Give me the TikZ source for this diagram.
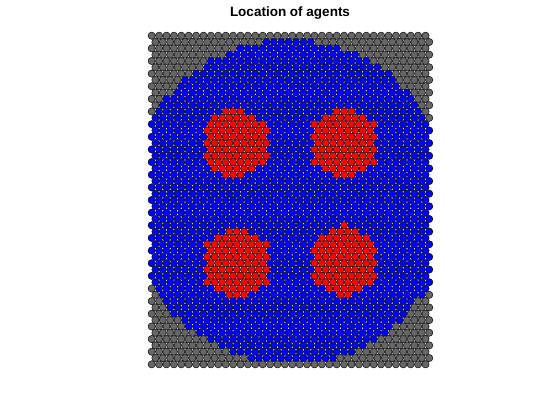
\documentclass[tikz,border=0pt]{standalone}
\usepackage{fontspec}
\setmainfont{Liberation Sans}
\definecolor{agentgray}{RGB}{102,102,102}
\tikzset{agent/.style={draw=black,line width=0.45pt}}

\begin{document}
\begin{tikzpicture}[x=1pt,y=-1pt]
  \useasboundingbox (0,0) rectangle (560,420);
  \node (title) at (290,13) {\fontsize{13.5}{15}\selectfont\bfseries Location of agents};
  % hex lattice of agents, coloured by region
  \foreach \j in {0,...,52}{
    \foreach \i in {0,...,37}{
      \pgfmathsetmacro{\px}{151.7+7.4*\i+3.7*mod(\j,2)}
      \pgfmathsetmacro{\py}{35.7+6.32*\j}
      \pgfmathsetmacro{\db}{((\px-290)/100)^2+((\py-202)/100)^2}
      \pgfmathsetmacro{\ax}{min(abs(\px-235.5),abs(\px-345))}
      \pgfmathsetmacro{\ay}{min(abs(\py-143),abs(\py-262.5))}
      \pgfmathtruncatemacro{\kind}{((\ax<=31)&&(0.5*\ax+0.866*\ay<=33)) ? 2 : ((\db<2.62) ? 1 : 0)}
      \ifcase\kind \def\agentcol{agentgray}\or \def\agentcol{blue}\or \def\agentcol{red}\fi
      \draw[agent,fill=\agentcol] (\px,\py) circle[radius=3.65];
    }
  }
\end{tikzpicture}
\end{document}
